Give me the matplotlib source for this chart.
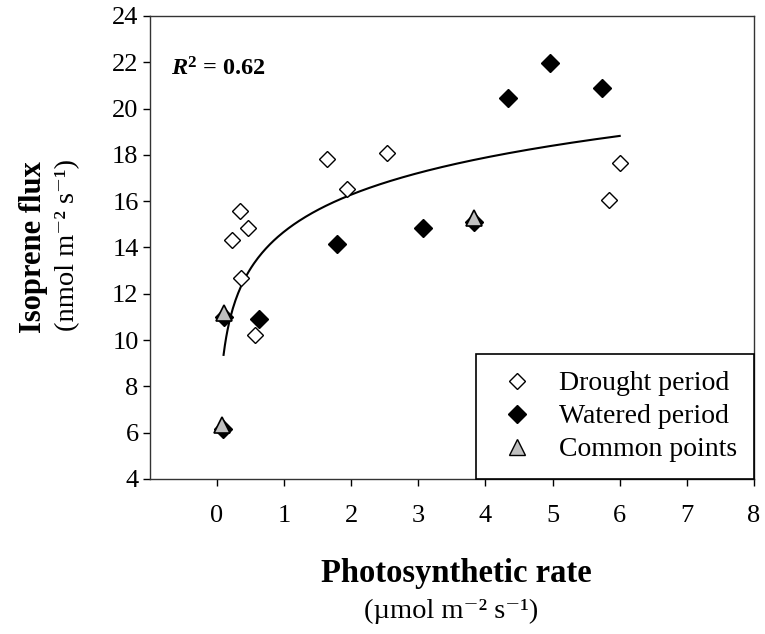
import matplotlib
matplotlib.use("Agg")
import matplotlib.pyplot as plt
import numpy as np
from matplotlib.lines import Line2D

plt.rcParams["font.family"] = ["Liberation Serif", "DejaVu Serif"]
plt.rcParams["mathtext.fontset"] = "custom"
plt.rcParams["mathtext.rm"] = "Liberation Serif"
plt.rcParams["mathtext.it"] = "Liberation Serif:italic"
plt.rcParams["mathtext.bf"] = "Liberation Serif:bold"
plt.rcParams["mathtext.bfit"] = "Liberation Serif:italic:bold"

# drought period (open diamonds)
drought_x = [0.22, 0.35, 0.46, 0.36, 0.57, 1.64, 1.94, 2.53, 5.84, 6.00]
drought_y = [14.32, 15.58, 14.86, 12.70, 10.21, 17.82, 16.51, 18.07, 16.05, 17.64]
# watered period (filled diamonds)
watered_x = [0.63, 1.79, 3.07, 4.33, 4.96, 5.74, 0.10, 0.09, 3.83]
watered_y = [10.90, 14.14, 14.83, 20.44, 21.96, 20.88, 11.00, 6.15, 15.12]
# common points (grey triangles)
common_x = [0.10, 0.08, 3.83]
common_y = [11.16, 6.33, 15.26]

# logarithmic trend line y = a + b ln(x)
fit_a, fit_b = 14.68, 2.31
fit_range = (0.1, 6.0)
r2_text = r"$\mathbfit{R}^{\mathbf{2}}$ = 0.62"

fig = plt.figure(figsize=(7.65, 6.34), dpi=100)
ax = fig.add_axes([0.1957, 0.2445, 0.7899, 0.7303])

xs = np.linspace(fit_range[0], fit_range[1], 300)
ax.plot(xs, fit_a + fit_b * np.log(xs), color="black", lw=1.5, zorder=2)

ax.plot(drought_x, drought_y, ls="none", marker="D", ms=8.6, mfc="white",
        mec="black", mew=1.0, zorder=3)
ax.plot(watered_x, watered_y, ls="none", marker="D", ms=9.2, mfc="black",
        mec="black", mew=1.0, zorder=4)
ax.plot(common_x, common_y, ls="none", marker="^", ms=11.5, mfc="#C0C0C0",
        mec="black", mew=1.2, zorder=5)

ax.set_xlim(-1, 8)
ax.set_ylim(4, 24)
ax.set_xticks(range(0, 9))
ax.set_yticks(range(4, 25, 2))
ax.tick_params(direction="out", length=5, width=1, labelsize=19)
ax.tick_params(axis="x", pad=14)
ax.tick_params(axis="y", pad=3)
for s in ax.spines.values():
    s.set_linewidth(1.0)
    s.set_color("#333333")

ax.text(0.036, 0.885, r2_text, transform=ax.transAxes, fontsize=17.5,
        fontweight="bold", ha="left", va="center")

handles = [
    Line2D([], [], ls="none", marker="D", ms=8.6, mfc="white", mec="black"),
    Line2D([], [], ls="none", marker="D", ms=9.2, mfc="black", mec="black"),
    Line2D([], [], ls="none", marker="^", ms=11.5, mfc="#C0C0C0", mec="black"),
]
leg = ax.legend(handles, ["Drought period", "Watered period", "Common points"],
                loc="lower right", borderaxespad=0, fontsize=20, fancybox=False,
                framealpha=1, edgecolor="black", handletextpad=0.65,
                labelspacing=0.27, borderpad=0.6, handlelength=1.75)
leg.get_frame().set_linewidth(1.2)

fig.text(0.044, 0.61, "Isoprene flux", rotation=90, fontsize=22,
         fontweight="bold", ha="center", va="center")
fig.text(0.088, 0.613, "(nmol m\u207b\u00b2 s\u207b\u00b9)", rotation=90,
         fontsize=20.5, ha="center", va="center")
fig.text(0.597, 0.096, "Photosynthetic rate", fontsize=23.5, fontweight="bold",
         ha="center", va="center")
fig.text(0.59, 0.036, "(\u00b5mol m\u207b\u00b2 s\u207b\u00b9)", fontsize=20.5,
         ha="center", va="center")

fig.savefig("out.png", dpi=100, facecolor="white")
